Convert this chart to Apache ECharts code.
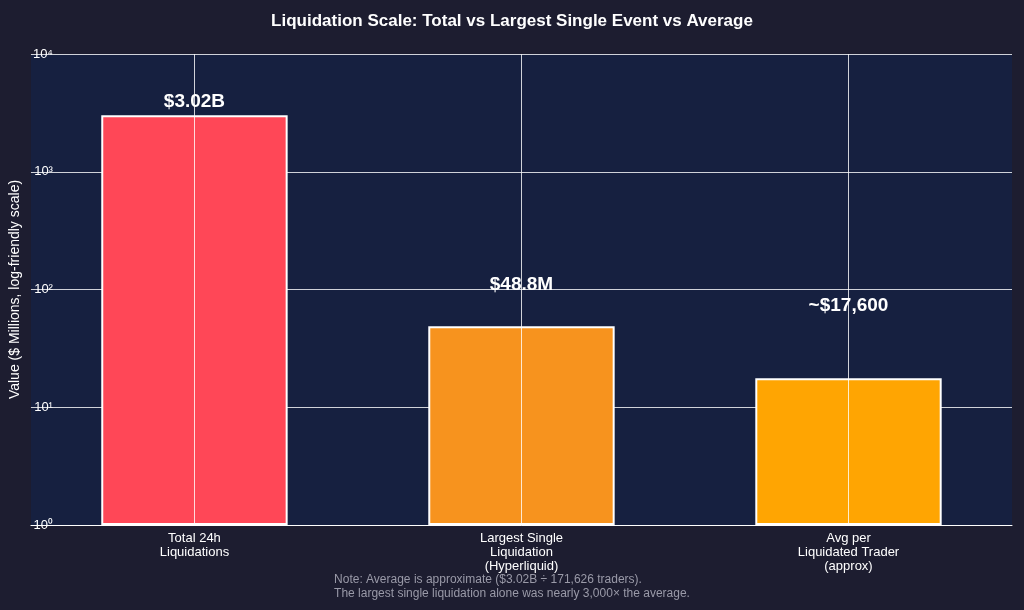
<!DOCTYPE html>
<html><head><meta charset="utf-8">
<script src="https://cdn.jsdelivr.net/npm/echarts@6/dist/echarts.min.js"></script>
<style>html,body{margin:0;background:#1d1d30;}#c{width:1024px;height:610px;}</style>
</head><body><div id="c"></div>
<script>
const categories = ['Total 24h\nLiquidations', 'Largest Single\nLiquidation\n(Hyperliquid)', 'Avg per\nLiquidated Trader\n(approx)'];
const values = [3020, 48.8, 17.6];
const labels = ['$3.02B', '$48.8M', '~$17,600'];
const colors = ['#ff4757', '#f7931e', '#ffa502'];
const labelDist = [4, 32, 63];
const sup = {'0':'⁰','1':'¹','2':'²','3':'³','4':'⁴'};
const chart = echarts.init(document.getElementById('c'));
chart.setOption({
  backgroundColor: '#1d1d30',
  title: {text: 'Liquidation Scale: Total vs Largest Single Event vs Average', left: 'center', top: 8,
    textStyle: {color: '#ffffff', fontSize: 17, fontWeight: 'bold', fontFamily: 'Liberation Sans'}},
  grid: {left: 26, right: 12, top: 54, bottom: 85, show: true, backgroundColor: '#162040', borderWidth: 0},
  xAxis: {type: 'category', data: categories,
    axisLine: {lineStyle: {color: '#ffffff'}}, axisTick: {show: false},
    axisLabel: {color: '#ffffff', fontSize: 13, fontFamily: 'Liberation Sans', lineHeight: 14, margin: 6},
    splitLine: {show: false}},
  yAxis: {type: 'log', min: 1, max: 10000, logBase: 10,
    name: 'Value ($ Millions, log-friendly scale)', nameLocation: 'middle', nameGap: -8,
    nameTextStyle: {color: '#ffffff', fontSize: 14, fontFamily: 'Liberation Sans'},
    axisLine: {show: false}, axisTick: {show: false},
    axisLabel: {inside: false, margin: -22, color: '#ffffff', fontSize: 13, fontFamily: 'Liberation Sans',
      formatter: v => '10' + sup[String(Math.round(Math.log10(v)))]},
    splitLine: {lineStyle: {color: '#ffffff', width: 1, opacity: 0.8}}},
  series: [
    {type: 'line', data: [], z: 1, silent: true,
      markLine: {symbol: 'none', silent: true, label: {show: false},
        lineStyle: {color: '#ffffff', type: 'solid', width: 1, opacity: 0.8},
        data: categories.map(c => ({xAxis: c}))}},
    {type: 'bar', z: 3, barWidth: '57%',
      data: values.map((v, i) => ({value: v,
        itemStyle: {color: colors[i], borderColor: '#ffffff', borderWidth: 2},
        label: {show: true, position: 'top', distance: labelDist[i], formatter: labels[i],
          color: '#ffffff', fontSize: 19, fontWeight: 'bold', fontFamily: 'Liberation Sans'}}))}
  ],
  graphic: [{type: 'text', left: 'center', top: 573,
    style: {text: 'Note: Average is approximate ($3.02B ÷ 171,626 traders).\nThe largest single liquidation alone was nearly 3,000× the average.',
      fill: '#9a9aa8', fontSize: 12, fontFamily: 'Liberation Sans', align: 'center', lineHeight: 14}}]
});
</script></body></html>
